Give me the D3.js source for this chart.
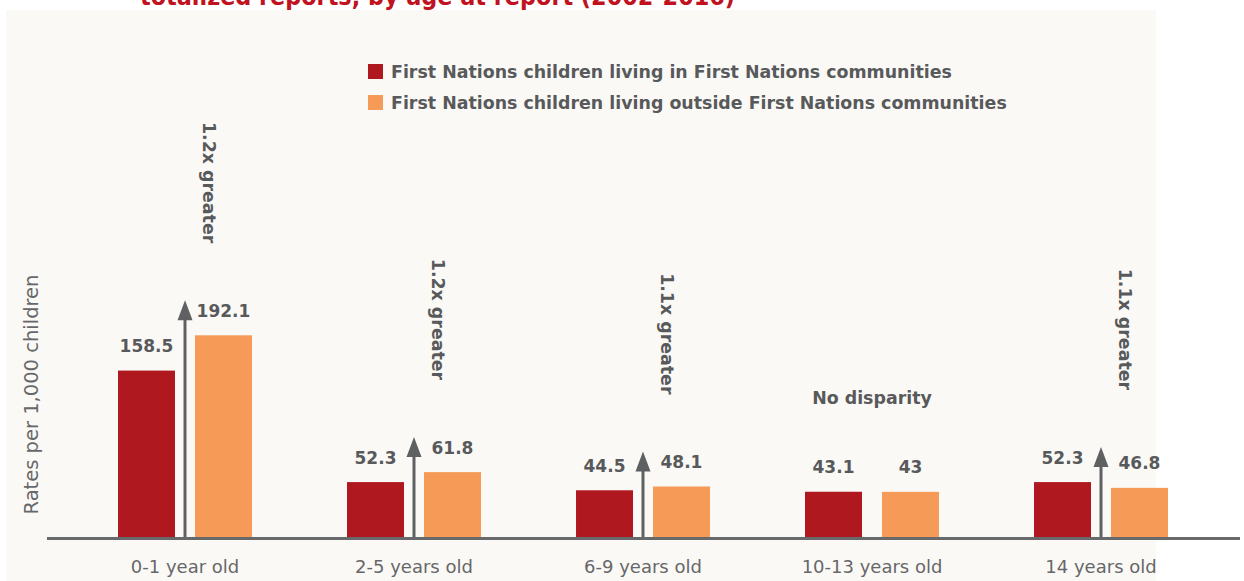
<!DOCTYPE html>
<html>
<head>
<meta charset="utf-8">
<script src="https://cdn.jsdelivr.net/npm/d3@7"></script>
<style>
  html, body { margin: 0; padding: 0; background: #ffffff; }
  svg { display: block; }
</style>
</head>
<body>
<svg id="chart" width="1244" height="581"></svg>
<script>
// Age groups shown along the x axis
const categories = ["0-1 year old", "2-5 years old", "6-9 years old", "10-13 years old", "14 years old"];
// Rates per 1,000 children
const inCommunities = [158.5, 52.3, 44.5, 43.1, 52.3];
const outsideCommunities = [192.1, 61.8, 48.1, 43, 46.8];
// Disparity call-outs per age group
const disparityLabels = ["1.2x greater", "1.2x greater", "1.1x greater", "No disparity", "1.1x greater"];
const hasArrow = [true, true, true, false, true];
const seriesNames = [
  "First Nations children living in First Nations communities",
  "First Nations children living outside First Nations communities"
];
const seriesKeys = ["inside", "outside"];
const titleText = "totalized reports, by age at report (2002-2016)";
const yAxisTitle = "Rates per 1,000 children";

const W = 1244, H = 581;
const baseY = 537;
const colors = { inside: "#b01820", outside: "#f69b57" };
const darkText = "#58595b";
const lightText = "#666769";
const boldFont = "'DejaVu Sans', sans-serif";

const svg = d3.select("#chart");

// soft page backdrop
svg.append("rect").attr("x", 0).attr("y", 0).attr("width", W).attr("height", H).attr("fill", "#ffffff");
svg.append("rect").attr("x", 6).attr("y", 10).attr("width", 1150).attr("height", H - 10).attr("fill", "#fbf9f6");

// title (runs off the top edge of the page)
svg.append("text")
  .attr("x", 140).attr("y", 5)
  .attr("textLength", 595).attr("lengthAdjust", "spacingAndGlyphs")
  .attr("font-family", boldFont).attr("font-weight", "bold").attr("font-size", 24)
  .attr("fill", "#c1121f")
  .text(titleText);

const data = categories.map((c, i) => ({
  cat: c, inside: inCommunities[i], outside: outsideCommunities[i],
  label: disparityLabels[i], arrow: hasArrow[i]
}));

const x0 = d3.scaleBand().domain(categories).range([70.5, 1215.5])
  .paddingInner(0.415).paddingOuter(0.2075);
const x1 = d3.scaleBand().domain(seriesKeys).range([0, x0.bandwidth()])
  .paddingInner(0.2597).paddingOuter(0);
const y = d3.scaleLinear().domain([0, 200]).range([baseY, baseY - 210]);

// bars
const groups = svg.append("g").selectAll("g").data(data).join("g")
  .attr("transform", d => `translate(${x0(d.cat)},0)`);

groups.selectAll("rect").data(d => seriesKeys.map(k => ({ key: k, value: d[k] }))).join("rect")
  .attr("x", d => x1(d.key))
  .attr("y", d => y(d.value))
  .attr("width", x1.bandwidth())
  .attr("height", d => baseY - y(d.value))
  .attr("fill", d => colors[d.key]);

// value labels
groups.selectAll("text.val").data(d => seriesKeys.map(k => ({ key: k, value: d[k] }))).join("text")
  .attr("class", "val")
  .attr("x", d => x1(d.key) + x1.bandwidth() / 2)
  .attr("y", d => y(d.value) - 18.5)
  .attr("text-anchor", "middle")
  .attr("font-family", boldFont).attr("font-weight", "bold").attr("font-size", 17)
  .attr("fill", darkText)
  .text(d => d3.format("~f")(d.value));

// x axis line
svg.append("line")
  .attr("x1", 47).attr("x2", 1240).attr("y1", baseY + 1.5).attr("y2", baseY + 1.5)
  .attr("stroke", "#68696b").attr("stroke-width", 3);

// category labels
const xAxis = d3.axisBottom(x0).tickSize(0).tickPadding(0);
const axisG = svg.append("g").attr("transform", `translate(0,${baseY})`).call(xAxis);
axisG.select(".domain").remove();
axisG.selectAll("text")
  .attr("y", 36).attr("dy", 0)
  .attr("font-family", "'DejaVu Sans', sans-serif").attr("font-size", 18)
  .attr("fill", lightText);

// disparity arrows and call-outs
data.forEach(d => {
  const cx = x0(d.cat) + x0.bandwidth() / 2;
  const top = y(Math.max(d.inside, d.outside));
  if (d.arrow) {
    const tip = top - 35;
    svg.append("line")
      .attr("x1", cx).attr("x2", cx).attr("y1", baseY).attr("y2", tip + 15)
      .attr("stroke", "#5f6062").attr("stroke-width", 3);
    svg.append("path")
      .attr("d", `M${cx},${tip} L${cx + 7.5},${tip + 20} L${cx - 7.5},${tip + 20} Z`)
      .attr("fill", "#5f6062");
    svg.append("text")
      .attr("transform", `translate(${cx + 18},${tip - 57}) rotate(90)`)
      .attr("text-anchor", "end")
      .attr("font-family", boldFont).attr("font-weight", "bold").attr("font-size", 17.4)
      .attr("fill", darkText)
      .text(d.label);
  } else {
    svg.append("text")
      .attr("x", cx).attr("y", top - 88)
      .attr("text-anchor", "middle")
      .attr("font-family", boldFont).attr("font-weight", "bold").attr("font-size", 17.4)
      .attr("fill", darkText)
      .text(d.label);
  }
});

// y axis title
svg.append("text")
  .attr("transform", `translate(38,394.5) rotate(-90)`)
  .attr("text-anchor", "middle")
  .attr("font-family", "'DejaVu Sans', sans-serif").attr("font-size", 19.5)
  .attr("fill", lightText)
  .text(yAxisTitle);

// legend
const legend = svg.append("g").selectAll("g").data(seriesKeys).join("g")
  .attr("transform", (k, i) => `translate(368,${64 + i * 31})`);
legend.append("rect").attr("width", 15).attr("height", 15).attr("fill", k => colors[k]);
legend.append("text")
  .attr("x", 23).attr("y", 14)
  .attr("font-family", boldFont).attr("font-weight", "bold").attr("font-size", 17.4)
  .attr("fill", darkText)
  .text((k, i) => seriesNames[i]);
</script>
</body>
</html>
